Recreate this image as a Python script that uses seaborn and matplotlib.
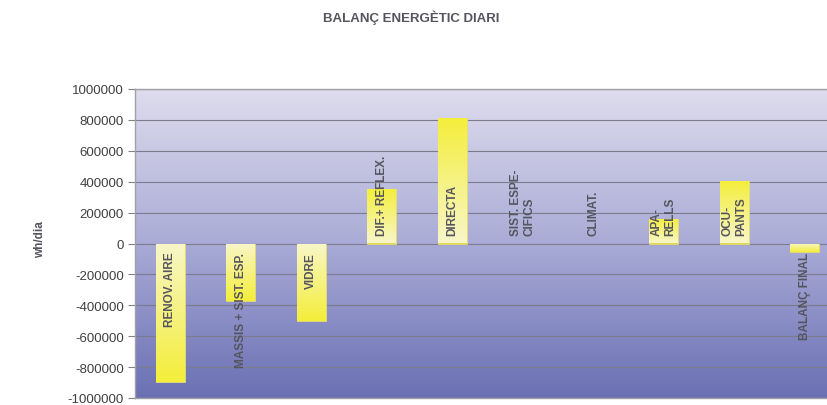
import matplotlib
matplotlib.use("Agg")
import matplotlib.pyplot as plt
import matplotlib.ticker as mticker
import seaborn as sns
import numpy as np
import pandas as pd
from matplotlib.colors import LinearSegmentedColormap

# dades del balanç (wh/dia)
categories = ["RENOV. AIRE", "MASSIS + SIST. ESP.", "VIDRE", "DIF.+ REFLEX.",
              "DIRECTA", "SIST. ESPE-\nCIFICS", "CLIMAT.", "APA-\nRELLS",
              "OCU-\nPANTS", "BALANÇ FINAL"]
values = [-895000, -375000, -500000, 350000, 810000, 0, 0, 160000, 405000, -58000]
yticks = list(range(-1000000, 1000001, 200000))

df = pd.DataFrame({"categoria": categories, "valor": values})

sns.set_style("white")
plt.rcParams["font.family"] = ["Liberation Sans", "DejaVu Sans"]

fig = plt.figure(figsize=(8.28, 4.06), dpi=100)
ax = fig.add_axes([135 / 828, 7 / 406, 705 / 828, 309 / 406])

sns.barplot(data=df, x="categoria", y="valor", color="#f4ef40", width=0.41,
            edgecolor="#e6de70", linewidth=0.6, ax=ax, zorder=3)

ax.set_ylim(-1000000, 1000000)
ax.set_xlim(-0.5, len(categories) - 0.5)

# fons degradat
bg = LinearSegmentedColormap.from_list("bg", ["#6a70b3", "#a9abd6", "#dedced"])
grad = np.linspace(0, 1, 256).reshape(-1, 1)
ax.imshow(grad, cmap=bg, aspect="auto", extent=[0, 1, 0, 1], origin="lower",
          transform=ax.transAxes, zorder=0)

# degradat a les barres
barcm = LinearSegmentedColormap.from_list("bar", ["#f8f6c8", "#f4ee3a"])
for p in ax.patches:
    h = p.get_height()
    if h == 0:
        p.set_linewidth(0)
        continue
    x0, w, y0 = p.get_x(), p.get_width(), p.get_y()
    g = np.linspace(0, 1, 128).reshape(-1, 1)
    if h < 0:
        g = g[::-1]
    im = ax.imshow(g, cmap=barcm, aspect="auto", origin="lower",
                   extent=[x0, x0 + w, min(y0, y0 + h), max(y0, y0 + h)], zorder=3)
    im.set_clip_path(p)
ax.set_xlim(-0.5, len(categories) - 0.5)
ax.set_ylim(-1000000, 1000000)

# etiquetes de cada barra
for i, (cat, v) in enumerate(zip(categories, values)):
    off = 6 if v >= 0 else -6
    ax.annotate(cat, xy=(i, 0), xytext=(0, off), textcoords="offset points",
                rotation=90, ha="center", va="bottom" if v >= 0 else "top",
                multialignment="left", fontsize=8.5, fontweight="bold",
                color="#55555f", zorder=5)

ax.set_yticks(yticks)
ax.yaxis.set_major_formatter(mticker.FuncFormatter(lambda v, p: f"{int(round(v))}"))
ax.tick_params(axis="y", length=5, width=0.8, color="#808080", labelsize=9.5,
               labelcolor="#404040", left=True, pad=3)
ax.tick_params(axis="x", bottom=False, labelbottom=False)
ax.grid(axis="y", color="#7c7c8c", linewidth=0.8, zorder=1)
ax.set_axisbelow(True)
ax.set_xlabel("")
ax.set_ylabel("")
for s in ax.spines.values():
    s.set_color("#a0a0a8")
    s.set_linewidth(1)

fig.text(40 / 828, 1 - 240 / 406, "wh/dia", rotation=90, ha="center", va="center",
         fontsize=8.5, fontweight="bold", color="#55555f")
fig.text(411 / 828, 1 - 18 / 406, "BALANÇ ENERGÈTIC DIARI", ha="center", va="center",
         fontsize=9.5, fontweight="bold", color="#55555f")

fig.savefig("out.png", dpi=100)
plt.close(fig)
